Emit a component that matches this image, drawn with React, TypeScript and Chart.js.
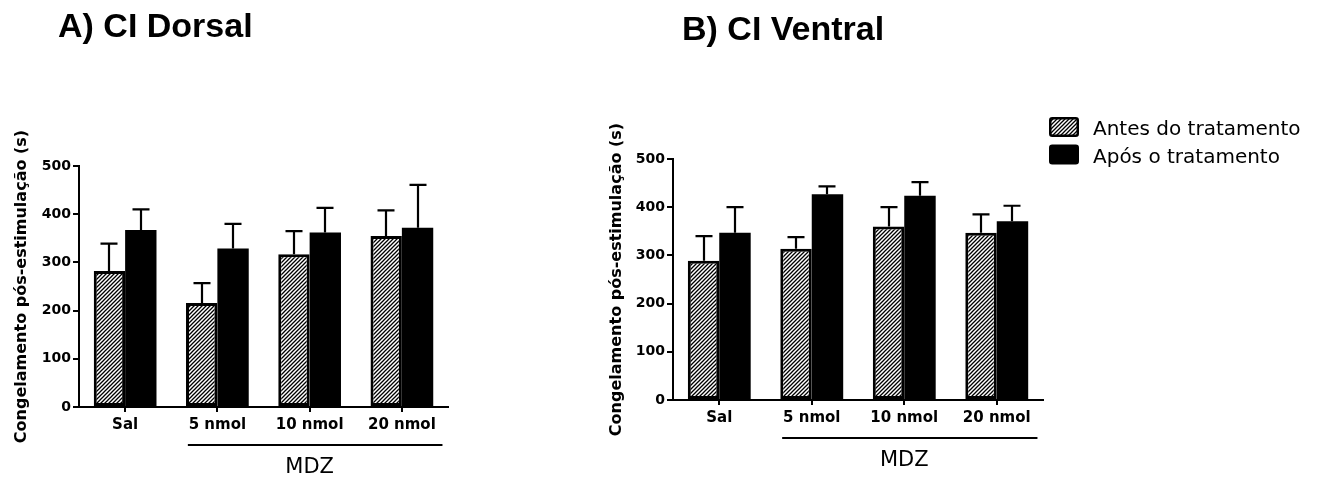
import React, { useEffect, useRef } from "react";
import { Chart, registerables } from "chart.js";

Chart.register(...registerables);

// ---------- data ----------
const categories = ["Sal", "5 nmol", "10 nmol", "20 nmol"];
const seriesNames = ["Antes do tratamento", "Após o tratamento"];
const yTicks = [0, 100, 200, 300, 400, 500];

const dorsalAntes = [282, 216, 317, 355];
const dorsalAntesSem = [57, 41, 48, 53];
const dorsalApos = [367, 329, 362, 372];
const dorsalAposSem = [43, 51, 51, 89];

const ventralAntes = [289, 314, 360, 347];
const ventralAntesSem = [51, 24, 40, 38];
const ventralApos = [347, 427, 424, 371];
const ventralAposSem = [53, 16, 28, 32];

const titleA = "A) CI Dorsal";
const titleB = "B) CI Ventral";
const yTitle = "Congelamento pós-estimulação (s)";
const groupLabel = "MDZ";

// ---------- helpers ----------
function makeHatch(): CanvasPattern | string {
  const c = document.createElement("canvas");
  c.width = 4;
  c.height = 4;
  const g = c.getContext("2d");
  if (!g) return "#888";
  g.fillStyle = "#fff";
  g.fillRect(0, 0, 4, 4);
  g.strokeStyle = "#000";
  g.lineWidth = 1.3;
  g.beginPath();
  g.moveTo(-1, 5);
  g.lineTo(5, -1);
  g.moveTo(-1, 1);
  g.lineTo(1, -1);
  g.moveTo(3, 5);
  g.lineTo(5, 3);
  g.stroke();
  return g.createPattern(c, "repeat") || "#888";
}

const errorBarPlugin = {
  id: "errorBars",
  afterDatasetsDraw(chart: any) {
    const ctx = chart.ctx;
    const ys = chart.scales.y;
    ctx.save();
    ctx.strokeStyle = "#000";
    ctx.lineWidth = 2.2;
    chart.data.datasets.forEach((ds: any, i: number) => {
      const meta = chart.getDatasetMeta(i);
      meta.data.forEach((el: any, j: number) => {
        const v = ds.data[j];
        const e = ds.sem[j];
        const yTop = ys.getPixelForValue(v + e);
        const x = Math.round(el.x);
        ctx.beginPath();
        ctx.moveTo(x, el.y);
        ctx.lineTo(x, yTop);
        ctx.moveTo(x - 8.5, yTop);
        ctx.lineTo(x + 8.5, yTop);
        ctx.stroke();
      });
    });
    ctx.restore();
  },
};

const decorPlugin = {
  id: "decor",
  afterDraw(chart: any, _args: any, opts: any) {
    const ctx = chart.ctx;
    const area = chart.chartArea;
    const xs = chart.scales.x;
    ctx.save();
    // panel title
    ctx.fillStyle = "#000";
    ctx.font = "bold 34px 'Liberation Sans', Arial, sans-serif";
    ctx.textAlign = "left";
    ctx.textBaseline = "alphabetic";
    ctx.fillText(opts.title, opts.titleX, opts.titleY);

    // MDZ bracket
    const band = xs.getPixelForValue(1) - xs.getPixelForValue(0);
    const x1 = xs.getPixelForValue(1) - 0.32 * band;
    const x2 = xs.getPixelForValue(3) + 0.44 * band;
    const yLine = Math.round(area.bottom + 38);
    ctx.strokeStyle = "#000";
    ctx.lineWidth = 2;
    ctx.beginPath();
    ctx.moveTo(x1, yLine);
    ctx.lineTo(x2, yLine);
    ctx.stroke();
    ctx.font = "21px 'DejaVu Sans', sans-serif";
    ctx.textAlign = "center";
    ctx.fillText(groupLabel, xs.getPixelForValue(2), area.bottom + 66);

    // legend
    if (opts.legend) {
      const bx = opts.legendX;
      let by = opts.legendY;
      chart.data.datasets.forEach((ds: any) => {
        ctx.fillStyle = ds.backgroundColor;
        ctx.strokeStyle = "#000";
        ctx.lineWidth = 2.5;
        ctx.beginPath();
        if ((ctx as any).roundRect) (ctx as any).roundRect(bx + 1.25, by + 1.25, 27.5, 17.5, 2);
        else ctx.rect(bx + 1.25, by + 1.25, 27.5, 17.5);
        ctx.fill();
        ctx.stroke();
        ctx.fillStyle = "#000";
        ctx.font = "20px 'DejaVu Sans', sans-serif";
        ctx.textAlign = "left";
        ctx.textBaseline = "alphabetic";
        ctx.fillText(ds.label, bx + 44, by + 18);
        by += 27.5;
      });
    }
    ctx.restore();
  },
};

const tickFont = { family: "'DejaVu Sans'", weight: "bold" as const, size: 14 };
const catFont = { family: "'DejaVu Sans'", weight: "bold" as const, size: 15 };
const yTitleFont = { family: "'DejaVu Sans'", weight: "bold" as const, size: 16 };

type PanelProps = {
  left: number;
  width: number;
  antes: number[];
  antesSem: number[];
  apos: number[];
  aposSem: number[];
  padding: { left: number; right: number; top: number; bottom: number };
  yAxisWidth: number;
  title: string;
  titleX: number;
  titleY: number;
  legend: boolean;
};

function BarPanel(p: PanelProps) {
  const ref = useRef<HTMLCanvasElement | null>(null);
  useEffect(() => {
    if (!ref.current) return;
    const hatch = makeHatch();
    const chart = new Chart(ref.current, {
      type: "bar",
      data: {
        labels: categories,
        datasets: [
          {
            label: seriesNames[0],
            data: p.antes,
            sem: p.antesSem,
            backgroundColor: hatch,
            borderColor: "#000",
            borderWidth: 3,
            borderSkipped: false,
          } as any,
          {
            label: seriesNames[1],
            data: p.apos,
            sem: p.aposSem,
            backgroundColor: "#000",
            borderColor: "#000",
            borderWidth: 0,
            borderSkipped: false,
          } as any,
        ],
      },
      options: {
        animation: false,
        responsive: false,
        devicePixelRatio: 1,
        datasets: { bar: { barPercentage: 1, categoryPercentage: 0.68 } },
        layout: { padding: p.padding },
        plugins: {
          legend: { display: false },
          tooltip: { enabled: false },
          decor: {
            title: p.title,
            titleX: p.titleX,
            titleY: p.titleY,
            legend: p.legend,
            legendX: 589,
            legendY: 117,
          },
        } as any,
        scales: {
          x: {
            offset: true,
            grid: {
              display: true,
              drawOnChartArea: false,
              drawTicks: true,
              tickLength: 5,
              offset: false,
              color: "#000",
              lineWidth: 2,
            },
            border: { display: true, color: "#000", width: 2 },
            ticks: {
              color: "#000",
              font: catFont,
              padding: 4,
              maxRotation: 0,
              autoSkip: false,
            },
            afterFit: (s: any) => {
              s.height = 30;
            },
          },
          y: {
            min: 0,
            max: 500,
            afterBuildTicks: (s: any) => {
              s.ticks = yTicks.map((v) => ({ value: v }));
            },
            grid: {
              display: true,
              drawOnChartArea: false,
              drawTicks: true,
              tickLength: 6,
              color: "#000",
              lineWidth: 2,
            },
            border: { display: true, color: "#000", width: 2 },
            ticks: { color: "#000", font: tickFont, padding: 2 },
            title: {
              display: true,
              text: yTitle,
              color: "#000",
              font: yTitleFont,
              padding: { top: 12, bottom: 0 },
            },
            afterFit: (s: any) => {
              s.width = p.yAxisWidth;
            },
          },
        } as any,
      },
      plugins: [errorBarPlugin, decorPlugin],
    });
    return () => chart.destroy();
  }, []);
  return (
    <canvas
      ref={ref}
      width={p.width}
      height={477}
      style={{ position: "absolute", left: p.left, top: 0, width: p.width, height: 477, display: "block" }}
    />
  );
}

export default function App() {
  return (
    <div
      style={{
        position: "absolute",
        left: 0,
        top: 0,
        width: 1317,
        height: 477,
        background: "#fff",
        overflow: "hidden",
      }}
    >
      <BarPanel
        left={0}
        width={460}
        antes={dorsalAntes}
        antesSem={dorsalAntesSem}
        apos={dorsalApos}
        aposSem={dorsalAposSem}
        padding={{ left: 0, right: 12, top: 166, bottom: 40 }}
        yAxisWidth={79}
        title={titleA}
        titleX={58}
        titleY={37}
        legend={false}
      />
      <BarPanel
        left={460}
        width={857}
        antes={ventralAntes}
        antesSem={ventralAntesSem}
        apos={ventralApos}
        aposSem={ventralAposSem}
        padding={{ left: 135, right: 274, top: 159, bottom: 47 }}
        yAxisWidth={78}
        title={titleB}
        titleX={222}
        titleY={39.5}
        legend={true}
      />
    </div>
  );
}
